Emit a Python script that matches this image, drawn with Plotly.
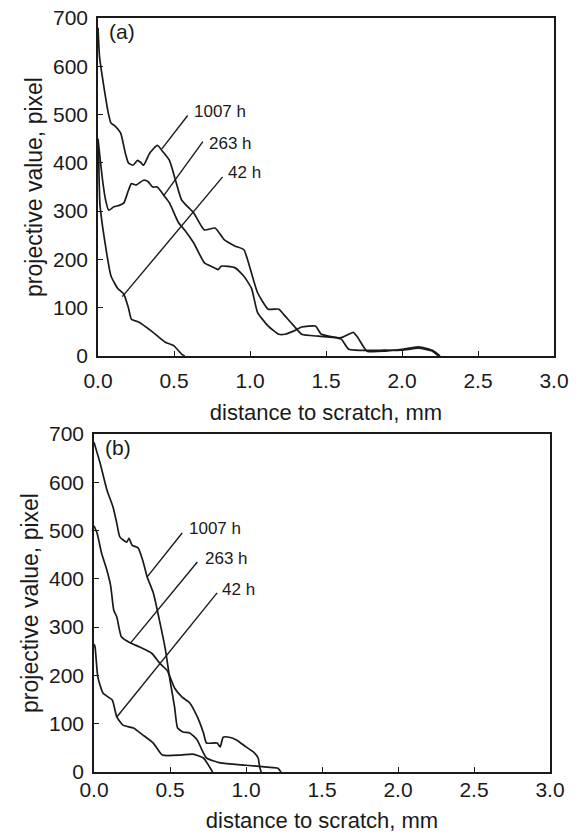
import plotly.graph_objects as go

# ---------------- data: panel (a) ----------------
a_1007_x = [0, 0.01, 0.04, 0.07, 0.086, 0.105, 0.13, 0.15, 0.18, 0.2, 0.23, 0.26, 0.28, 0.30, 0.34, 0.39,
            0.43, 0.47, 0.51, 0.55, 0.63, 0.70, 0.77, 0.83, 0.90, 0.96, 0.99, 1.05, 1.12, 1.19, 1.23, 1.29,
            1.34, 1.45, 1.60, 1.65, 1.68, 1.71, 1.77, 1.89, 2.0, 2.11, 2.2, 2.25]
a_1007_y = [680, 620, 555, 500, 482, 478, 470, 461, 420, 400, 395, 405, 401, 395, 420, 436,
            422, 405, 364, 323, 296, 261, 265, 241, 228, 220, 193, 131, 97, 97, 83, 62,
            45, 41, 38, 45, 49, 38, 10, 10, 14, 19, 12, 0]

a_263_x = [0, 0.01, 0.03, 0.05, 0.07, 0.105, 0.14, 0.17, 0.2, 0.22, 0.25, 0.30, 0.33, 0.36, 0.39, 0.44,
           0.47, 0.53, 0.57, 0.63, 0.70, 0.75, 0.79, 0.81, 0.90, 0.96, 1.01, 1.05, 1.12, 1.19, 1.23,
           1.29, 1.34, 1.43, 1.47, 1.60, 1.65, 1.89, 2.0, 2.11, 2.2, 2.24]
a_263_y = [450, 420, 364, 323, 302, 309, 312, 317, 343, 357, 354, 364, 361, 350, 350, 330,
           317, 276, 261, 234, 193, 185, 179, 186, 183, 165, 140, 90, 62, 45, 45,
           52, 60, 62, 45, 35, 14, 12, 12, 16, 10, 0]

a_42_x = [0, 0.005, 0.013, 0.05, 0.086, 0.13, 0.17, 0.2, 0.22, 0.27, 0.35, 0.44, 0.50, 0.55, 0.57]
a_42_y = [440, 400, 313, 227, 165, 140, 128, 100, 76, 70, 52, 29, 21, 4, 0]

# ---------------- data: panel (b) ----------------
b_1007_x = [0, 0.04, 0.085, 0.125, 0.15, 0.17, 0.215, 0.23, 0.25, 0.29, 0.32, 0.35, 0.39, 0.43, 0.47,
            0.50, 0.53, 0.55, 0.585, 0.63, 0.68, 0.71, 0.74, 0.83, 1.0, 1.14, 1.21, 1.23]
b_1007_y = [683, 640, 584, 549, 515, 487, 476, 484, 470, 464, 439, 404, 371, 315, 253,
            190, 135, 91, 83, 81, 66, 46, 29, 19, 14, 10, 8, 0]

b_263_x = [0, 0.02, 0.05, 0.085, 0.11, 0.13, 0.15, 0.18, 0.24, 0.30, 0.38, 0.43, 0.48, 0.50, 0.53,
           0.58, 0.63, 0.68, 0.72, 0.74, 0.81, 0.83, 0.85, 0.89, 0.94, 1.0, 1.05, 1.08, 1.09, 1.10]
b_263_y = [510, 495, 453, 418, 385, 335, 321, 280, 267, 259, 246, 226, 211, 197, 174,
           155, 143, 114, 81, 60, 60, 52, 72, 72, 66, 52, 41, 29, 10, 0]

b_42_x = [0, 0.007, 0.025, 0.06, 0.12, 0.15, 0.19, 0.26, 0.32, 0.39, 0.45, 0.57, 0.65, 0.72, 0.78]
b_42_y = [265, 259, 197, 163, 149, 114, 97, 91, 77, 60, 35, 35, 37, 29, 0]

labels = ["1007 h", "263 h", "42 h"]
panel_names = ["(a)", "(b)"]

# leader lines: (text x, text y, line start x, y, line end x, y) in data units
a_leaders = [(0.62, 506, 0.59, 498, 0.42, 429),
             (0.72, 440, 0.69, 444, 0.43, 331),
             (0.84, 381, 0.82, 371, 0.16, 123)]
b_leaders = [(0.61, 505, 0.58, 495, 0.35, 404),
             (0.72, 443, 0.68, 435, 0.24, 267),
             (0.83, 377, 0.81, 371, 0.15, 114)]

x_ticks = [0, 0.5, 1.0, 1.5, 2.0, 2.5, 3.0]
y_ticks = [0, 100, 200, 300, 400, 500, 600, 700]

FONT = "Liberation Sans, Arial, sans-serif"
INK = "#1a1a1a"
W, H = 580, 834
ML, MR, MT, MB = 94, 26, 18, 62
PW, PH = W - ML - MR, H - MT - MB

fig = go.Figure()

panels = [
    dict(xr="x", yr="y", series=[(a_1007_x, a_1007_y), (a_263_x, a_263_y), (a_42_x, a_42_y)],
         leaders=a_leaders, name=panel_names[0]),
    dict(xr="x2", yr="y2", series=[(b_1007_x, b_1007_y), (b_263_x, b_263_y), (b_42_x, b_42_y)],
         leaders=b_leaders, name=panel_names[1]),
]

annotations = []
shapes = []
for p in panels:
    for (xs, ys), lab in zip(p["series"], labels):
        fig.add_trace(go.Scatter(x=xs, y=ys, mode="lines", xaxis=p["xr"], yaxis=p["yr"],
                                 line=dict(color=INK, width=1.7, shape="spline", smoothing=0.5),
                                 showlegend=False, name=lab))
    for (tx, ty, x0, y0, x1, y1), lab in zip(p["leaders"], labels):
        shapes.append(dict(type="line", xref=p["xr"], yref=p["yr"], x0=x0, y0=y0, x1=x1, y1=y1,
                           line=dict(color=INK, width=1.4)))
        annotations.append(dict(text=lab, xref=p["xr"], yref=p["yr"], x=tx, y=ty, showarrow=False,
                                xanchor="left", yanchor="middle",
                                font=dict(family=FONT, size=17, color=INK)))
    annotations.append(dict(text=p["name"], xref=p["xr"] + " domain", yref=p["yr"] + " domain",
                            x=0.02, y=1.0, showarrow=False, xanchor="left", yanchor="top",
                            font=dict(family=FONT, size=21, color=INK)))


def xax(px0, px1, anchor, label_standoff, title_standoff):
    return dict(domain=[(px0 - ML) / PW, (px1 - ML) / PW], anchor=anchor, range=[0, 3],
                tickvals=x_ticks, ticktext=[f"{v:.1f}" for v in x_ticks],
                ticks="inside", ticklen=5, tickwidth=1.2, tickcolor=INK,
                showline=True, linecolor=INK, linewidth=1.6, mirror=True,
                showgrid=False, zeroline=False, automargin=False,
                ticklabelstandoff=label_standoff,
                tickfont=dict(family=FONT, size=21, color=INK),
                title=dict(text="distance to scratch, mm", standoff=title_standoff,
                           font=dict(family=FONT, size=22, color=INK)))


def yax(py0, py1, anchor):
    return dict(domain=[(H - MB - py1) / PH, (H - MB - py0) / PH], anchor=anchor, range=[0, 700],
                tickvals=y_ticks,
                ticks="inside", ticklen=5, tickwidth=1.2, tickcolor=INK,
                showline=True, linecolor=INK, linewidth=1.6, mirror=True,
                showgrid=False, zeroline=False, automargin=False,
                ticklabelstandoff=4,
                tickfont=dict(family=FONT, size=21, color=INK),
                title=dict(text="projective value, pixel", standoff=4,
                           font=dict(family=FONT, size=23, color=INK)))


fig.update_layout(
    width=W, height=H,
    margin=dict(l=ML, r=MR, t=MT, b=MB, autoexpand=False),
    paper_bgcolor="white", plot_bgcolor="white",
    xaxis=xax(98, 554, "y", 5, 14),
    yaxis=yax(18, 356, "x"),
    xaxis2=xax(94, 550, "y2", -2, 13),
    yaxis2=yax(434, 772, "x2"),
    annotations=annotations,
    shapes=shapes,
    font=dict(family=FONT, color=INK),
)

fig.write_html("out.html")
